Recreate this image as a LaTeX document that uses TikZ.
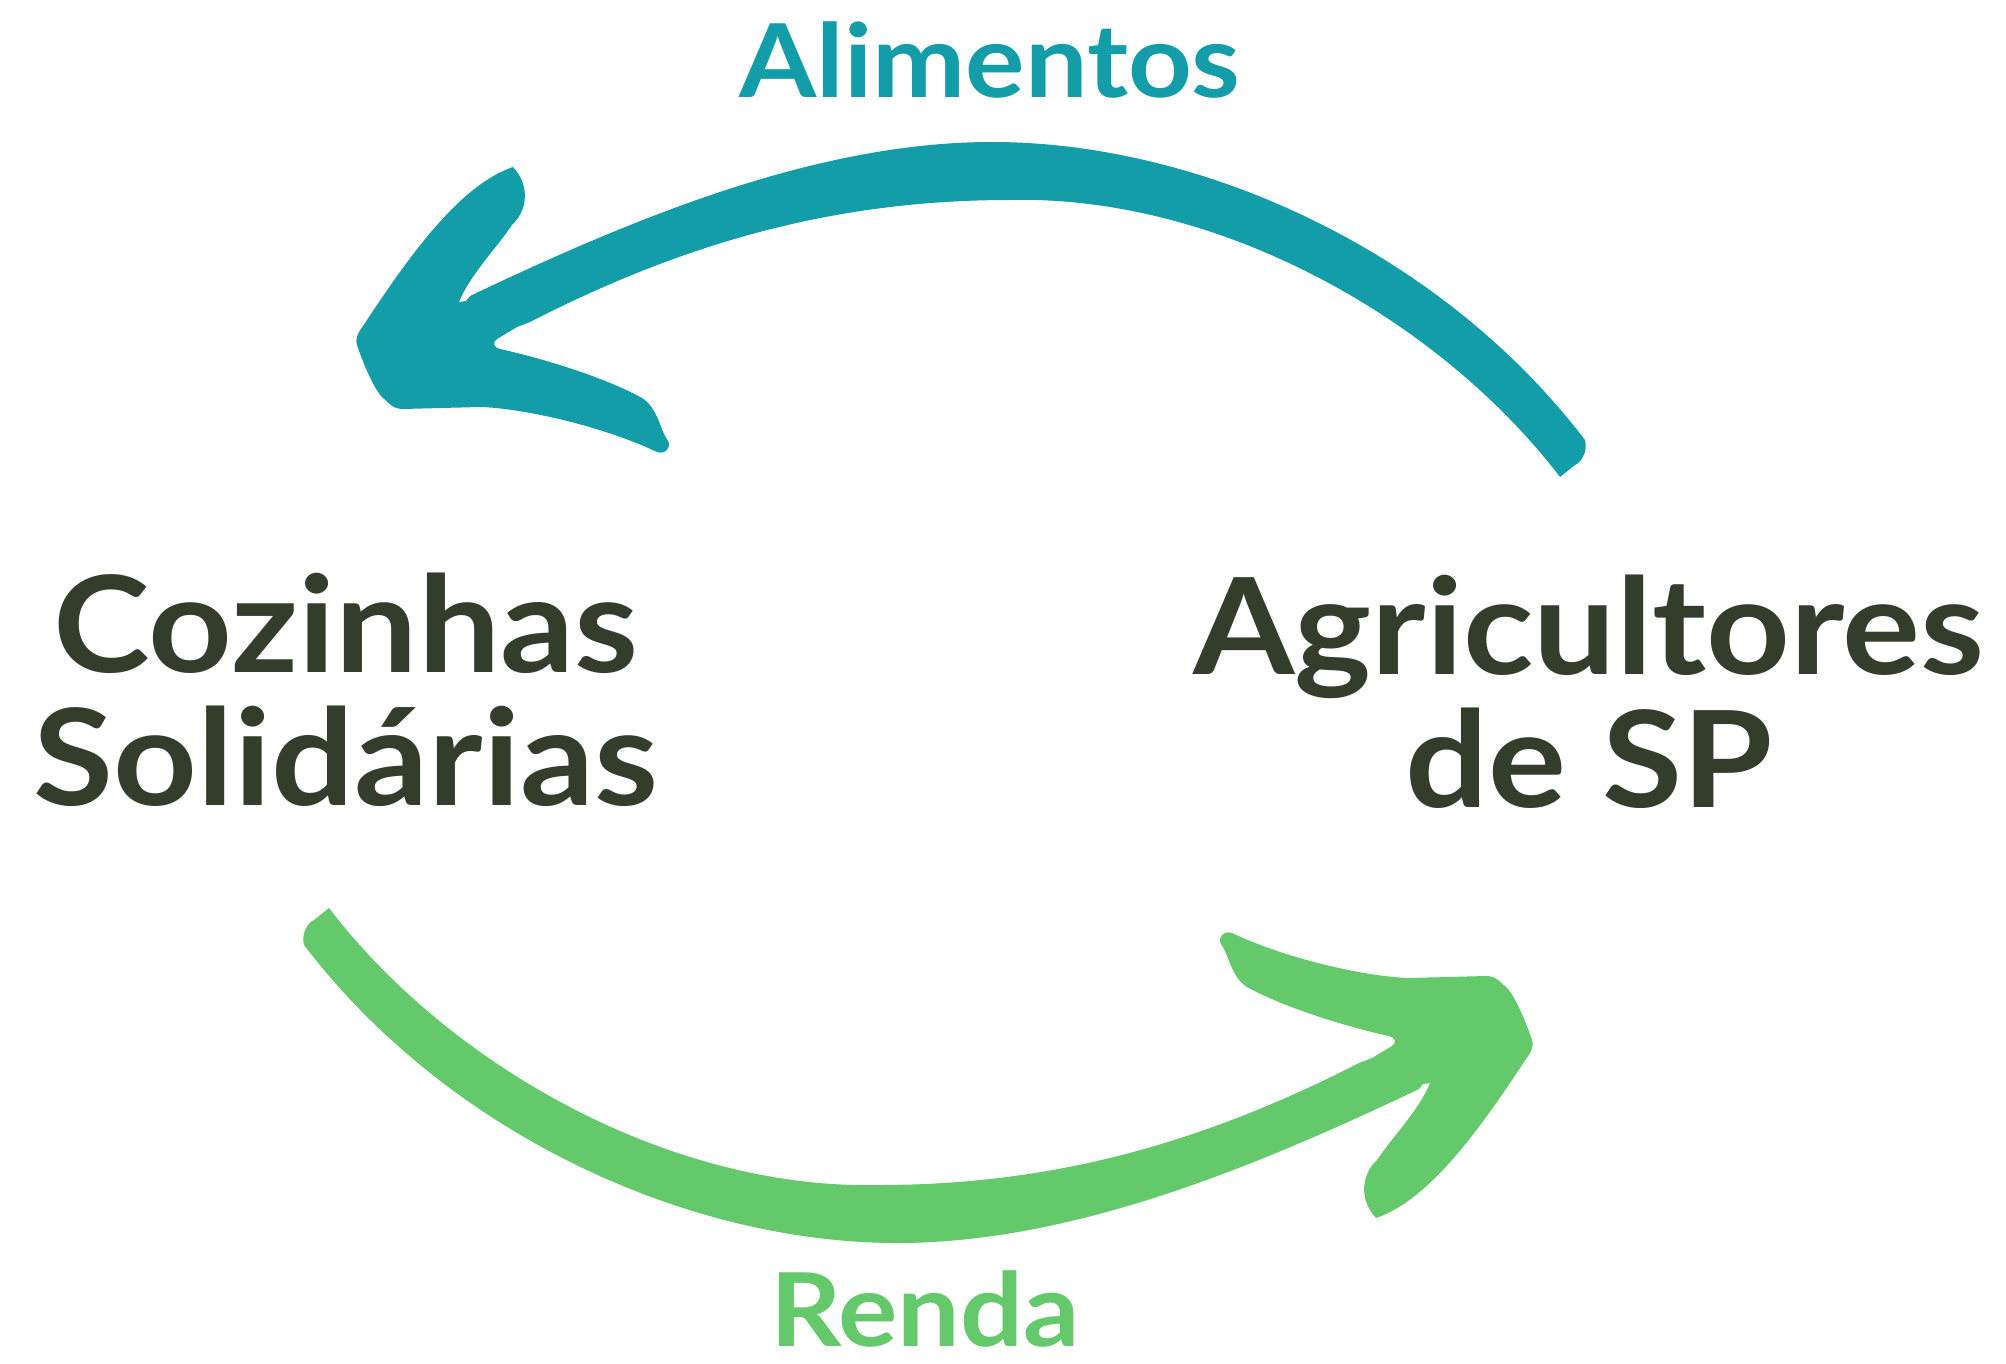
\documentclass[tikz,border=0pt]{standalone}
\usepackage{fontspec}
\setmainfont{Lato}[FakeStretch=1.09]
\definecolor{teal1}{RGB}{18,157,169}
\definecolor{green1}{RGB}{100,201,106}
\definecolor{dark1}{RGB}{52,61,44}
\tikzset{
  biglabel/.style={font=\fontsize{67}{67}\selectfont\bfseries, text=dark1, anchor=base, inner sep=0pt},
  flowlabel/.style={font=\fontsize{51}{51}\selectfont\bfseries, anchor=base, inner sep=0pt},
}
\newcommand{\brusharrow}{%
  (513,167) .. controls (530,185) and (528,210) .. (512,225)
  .. controls (495,250) and (470,275) .. (459,302)
  -- (466,301) -- (470,296)
  .. controls (640,215) and (820,142) .. (992,142)
  .. controls (1200,142) and (1440,250) .. (1585,440)
  .. controls (1588,450) and (1582,462) .. (1575,465)
  -- (1560,477)
  .. controls (1440,320) and (1220,195) .. (1010,200)
  .. controls (840,200) and (690,240) .. (530,322)
  -- (517,327) -- (507,333) -- (497,339)
  .. controls (492,342) and (494,348) .. (500,349)
  .. controls (550,360) and (610,380) .. (642,398)
  .. controls (658,408) and (660,430) .. (668,441)
  .. controls (672,447) and (665,455) .. (657,452)
  .. controls (600,425) and (520,408) .. (480,407)
  -- (403,409)
  .. controls (392,409) and (388,402) .. (381,396)
  .. controls (372,385) and (362,360) .. (357,345)
  .. controls (354,336) and (362,328) .. (367,320)
  .. controls (410,255) and (460,185) .. (513,167)
  -- cycle}
\begin{document}
\begin{tikzpicture}[x=0.5pt, y=-0.5pt]
\useasboundingbox (0,0) rectangle (2006,1364);
% arrows
\fill[teal1] \brusharrow;
\begin{scope}[rotate around={180:(944.5,692.5)}]
\fill[green1] \brusharrow;
\end{scope}
% labels
\node[flowlabel, text=teal1] (alim) at (990,98) {Alimentos};
\node[flowlabel, text=green1] (renda) at (925,1346) {Renda};
\node[biglabel] (coz1) at (346,672) {Cozinhas};
\node[biglabel] (coz2) at (346,805) {Solidárias};
\node[biglabel] (agr1) at (1589,674) {Agricultores};
\node[biglabel] (agr2) at (1589,807) {de SP};
\end{tikzpicture}
\end{document}
